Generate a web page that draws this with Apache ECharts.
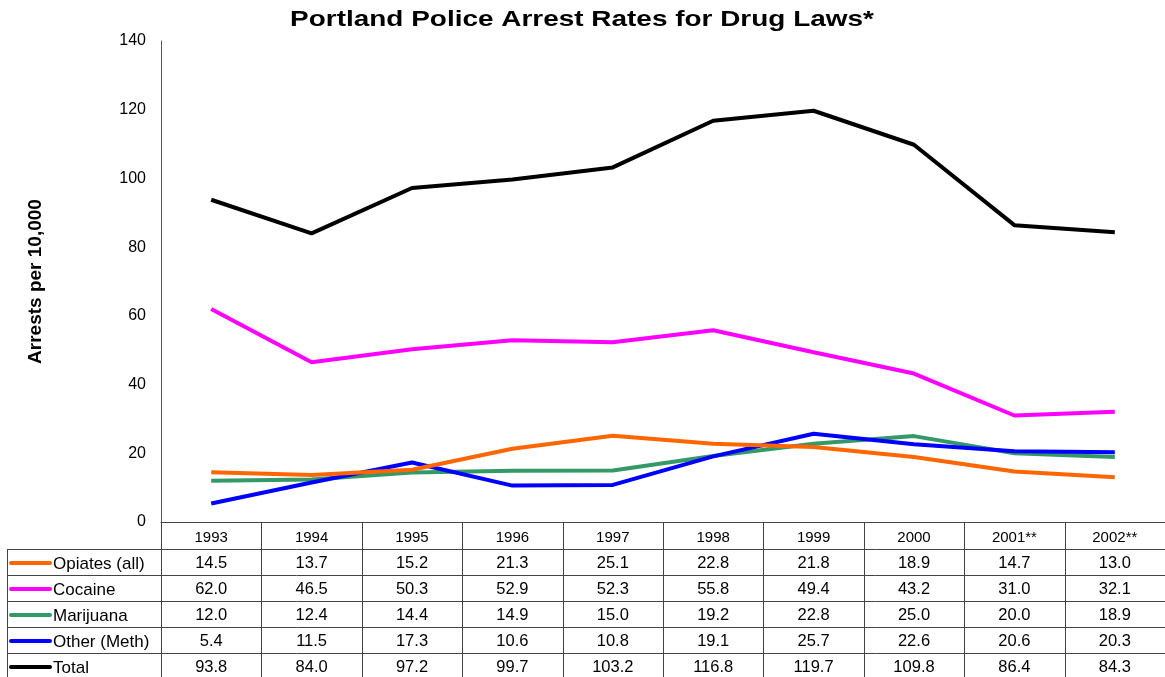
<!DOCTYPE html>
<html>
<head>
<meta charset="utf-8">
<script src="https://cdn.jsdelivr.net/npm/echarts@6/dist/echarts.min.js"></script>
<style>
  html, body { margin: 0; padding: 0; background: #fff; }
  #chart { width: 1165px; height: 677px; }
</style>
</head>
<body>
<div id="chart"></div>
<script>
// Arrest rates per 10,000 residents, by drug category
const years = ['1993', '1994', '1995', '1996', '1997', '1998', '1999', '2000', '2001**', '2002**'];
const opiates   = [14.5, 13.7, 15.2, 21.3, 25.1, 22.8, 21.8, 18.9, 14.7, 13.0];
const cocaine   = [62.0, 46.5, 50.3, 52.9, 52.3, 55.8, 49.4, 43.2, 31.0, 32.1];
const marijuana = [12.0, 12.4, 14.4, 14.9, 15.0, 19.2, 22.8, 25.0, 20.0, 18.9];
const meth      = [5.4, 11.5, 17.3, 10.6, 10.8, 19.1, 25.7, 22.6, 20.6, 20.3];
const total     = [93.8, 84.0, 97.2, 99.7, 103.2, 116.8, 119.7, 109.8, 86.4, 84.3];
const seriesNames = ['Opiates (all)', 'Cocaine', 'Marijuana', 'Other (Meth)', 'Total'];
const chartTitle = 'Portland Police Arrest Rates for Drug Laws*';

const seriesData = [opiates, cocaine, marijuana, meth, total];
const lineColors = ['#FF6600', '#FF00FF', '#339966', '#0000FF', '#000000'];
const FONT = 'Liberation Sans, Arial, sans-serif';

const chart = echarts.init(document.getElementById('chart'));

chart.setOption({
  animation: false,
  backgroundColor: '#fff',
  grid: { left: 161, top: 41, width: 1005, height: 481 },
  xAxis: {
    type: 'category',
    data: years,
    boundaryGap: true,
    axisLine: { lineStyle: { color: '#444', width: 1 } },
    axisTick: { show: false },
    axisLabel: { margin: 8, fontFamily: FONT, fontSize: 15, color: '#000' }
  },
  yAxis: {
    type: 'value',
    min: 0, max: 140, interval: 20,
    name: 'Arrests per 10,000',
    nameLocation: 'middle',
    nameGap: 116,
    nameTextStyle: { fontFamily: FONT, fontSize: 19, fontWeight: 'bold', color: '#000' },
    axisLine: { show: true, lineStyle: { color: '#555', width: 1 } },
    axisTick: { show: false },
    splitLine: { show: false },
    axisLabel: { margin: 15, fontFamily: FONT, fontSize: 16, color: '#000' }
  },
  series: seriesData.map((d, i) => ({
    name: seriesNames[i],
    type: 'line',
    data: d,
    symbol: 'none',
    lineStyle: { color: lineColors[i], width: 4 },
    z: 2 + (i === 0 ? 1 : 0)
  }))
});

// Title (wide bold face) and the data table beneath the plot
function drawExtras() {
  const rowTop = 549, rowH = 26, tableLeft = 7;
  const gridRect = chart.getModel().getComponent('grid').coordinateSystem.getRect();
  const right = gridRect.x + gridRect.width;
  const step = gridRect.width / years.length;
  const lineStyle = { stroke: '#444', lineWidth: 1 };
  const els = [];
  const bottom = rowTop + rowH * seriesNames.length + 4;

  els.push({ type: 'text', x: 582, y: 20, scaleX: 1.27, originX: 0, silent: true,
    style: { text: chartTitle, fontFamily: FONT, fontSize: 22, fontWeight: 'bold', fill: '#000',
             textAlign: 'center', textVerticalAlign: 'middle' } });

  // column dividers
  for (let k = 0; k <= years.length; k++) {
    const x = Math.round(gridRect.x + k * step) + 0.5;
    els.push({ type: 'line', shape: { x1: x, y1: gridRect.y + gridRect.height, x2: x, y2: bottom }, style: lineStyle, silent: true });
  }
  // left border of the label column
  els.push({ type: 'line', shape: { x1: tableLeft + 0.5, y1: rowTop, x2: tableLeft + 0.5, y2: bottom }, style: lineStyle, silent: true });
  // row separators
  for (let r = 0; r < seriesNames.length; r++) {
    const y = rowTop + r * rowH + 0.5;
    els.push({ type: 'line', shape: { x1: tableLeft, y1: y, x2: right, y2: y }, style: lineStyle, silent: true });
  }
  // rows: legend key, series name, one value per year
  seriesNames.forEach((name, r) => {
    const cy = rowTop + r * rowH + rowH / 2 + 1;
    els.push({ type: 'line', shape: { x1: 11, y1: cy, x2: 50, y2: cy },
      style: { stroke: lineColors[r], lineWidth: 4, lineCap: 'round' }, silent: true });
    els.push({ type: 'text', x: 53, y: cy + 1, silent: true,
      style: { text: name, fontFamily: FONT, fontSize: 17, fill: '#000', textAlign: 'left', textVerticalAlign: 'middle' } });
    seriesData[r].forEach((v, c) => {
      const px = chart.convertToPixel({ xAxisIndex: 0 }, years[c]);
      els.push({ type: 'text', x: px, y: cy, silent: true,
        style: { text: v.toFixed(1), fontFamily: FONT, fontSize: 16.5, fill: '#000', textAlign: 'center', textVerticalAlign: 'middle' } });
    });
  });
  chart.setOption({ graphic: { elements: els } });
}
drawExtras();
</script>
</body>
</html>
